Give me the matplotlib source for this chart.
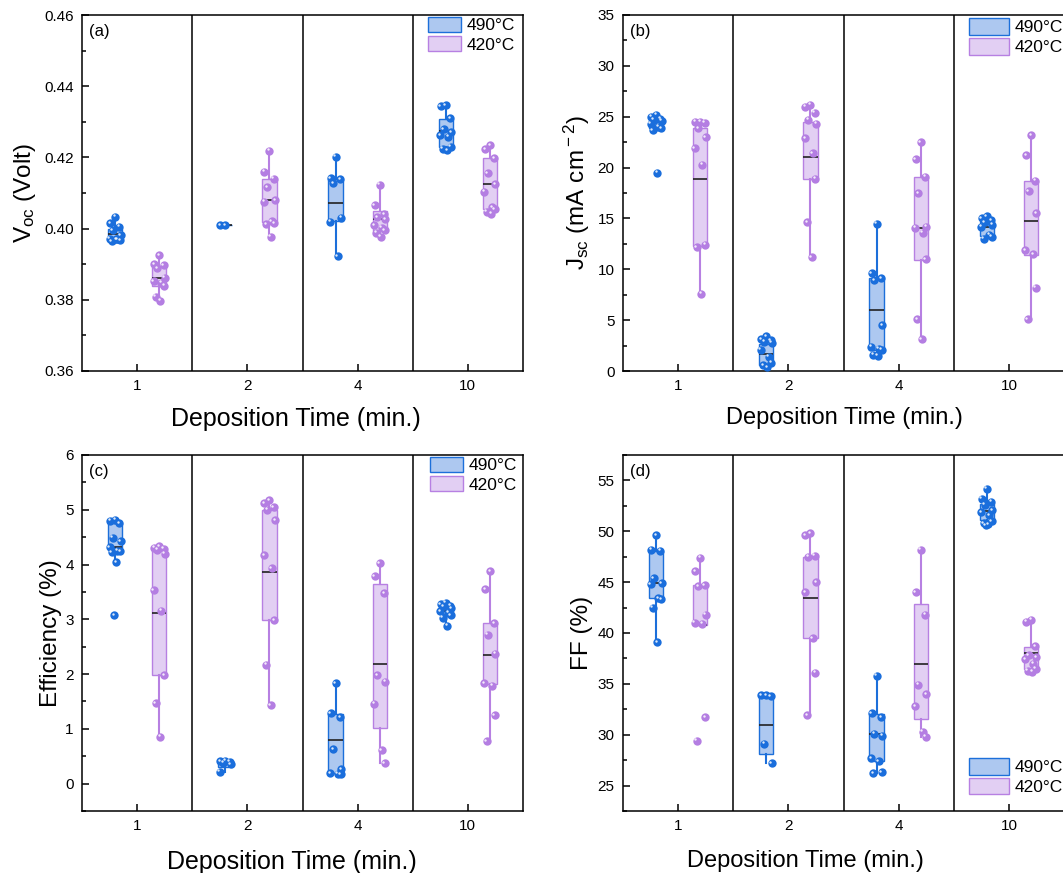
import numpy as np
import matplotlib
matplotlib.use('Agg')
import matplotlib.pyplot as plt
import matplotlib.transforms as mtransforms
from matplotlib.patches import Patch
from matplotlib.ticker import MultipleLocator, FormatStrFormatter

plt.rcParams['font.family'] = ['Liberation Sans', 'DejaVu Sans']
plt.rcParams['mathtext.fontset'] = 'custom'
plt.rcParams['mathtext.rm'] = 'Liberation Sans'
plt.rcParams['mathtext.it'] = 'Liberation Sans:italic'

times = ['1', '2', '4', '10']
temps = ['490°C', '420°C']

# individual cells per deposition time
voc_490 = [[0.4033, 0.4016, 0.4005, 0.3995, 0.3982, 0.3972, 0.3970, 0.3968, 0.3965, 0.3970],
           [0.4009, 0.4009],
           [0.4202, 0.4142, 0.4138, 0.4128, 0.4031, 0.4019, 0.3923],
           [0.4346, 0.4344, 0.4310, 0.4280, 0.4270, 0.4262, 0.4258, 0.4230, 0.4225, 0.4221]]
voc_420 = [[0.3926, 0.3900, 0.3898, 0.3888, 0.3862, 0.3853, 0.3848, 0.3840, 0.3809, 0.3797],
           [0.4219, 0.4160, 0.4140, 0.4116, 0.4080, 0.4076, 0.4021, 0.4016, 0.4013, 0.3977],
           [0.4123, 0.4065, 0.4040, 0.4032, 0.4026, 0.4010, 0.4002, 0.3995, 0.3988, 0.3977],
           [0.4235, 0.4223, 0.4197, 0.4155, 0.4125, 0.4104, 0.4060, 0.4055, 0.4048, 0.4042]]
jsc_490 = [[25.2, 25.0, 24.8, 24.7, 24.6, 24.3, 24.0, 23.9, 23.7, 19.5],
           [3.4, 3.1, 3.0, 2.9, 2.8, 2.1, 1.4, 0.8, 0.6, 0.4],
           [14.5, 9.6, 9.1, 8.9, 4.5, 2.4, 2.2, 2.1, 1.6, 1.5],
           [15.2, 15.0, 14.8, 14.6, 14.4, 14.2, 13.4, 13.2, 13.0]]
jsc_420 = [[24.5, 24.5, 24.4, 23.9, 23.0, 21.9, 20.3, 12.4, 12.2, 7.6],
           [26.2, 26.0, 25.4, 24.7, 24.3, 22.9, 21.4, 18.9, 14.6, 11.2],
           [22.5, 20.8, 19.1, 17.5, 14.2, 14.1, 13.6, 11.0, 5.1, 3.1],
           [23.2, 21.2, 18.7, 17.7, 15.5, 11.9, 11.5, 8.2, 5.1]]
eff_490 = [[4.82, 4.80, 4.76, 4.49, 4.43, 4.32, 4.25, 4.24, 4.23, 4.04, 3.08],
           [0.42, 0.41, 0.40, 0.38, 0.35, 0.22],
           [1.83, 1.29, 1.21, 0.63, 0.26, 0.19, 0.18, 0.17],
           [3.30, 3.28, 3.25, 3.24, 3.20, 3.15, 3.12, 3.08, 3.03, 2.88]]
eff_420 = [[4.34, 4.31, 4.29, 4.27, 4.20, 3.53, 3.16, 1.98, 1.47, 0.86],
           [5.17, 5.12, 5.05, 5.00, 4.81, 4.17, 3.93, 2.98, 2.17, 1.43],
           [4.03, 3.79, 3.48, 1.98, 1.86, 1.46, 0.61, 0.37],
           [3.88, 3.55, 2.93, 2.72, 2.37, 1.83, 1.79, 1.25, 0.78]]
ff_490 = [[49.6, 48.2, 48.1, 45.4, 44.9, 44.8, 43.4, 43.3, 42.5, 39.1],
          [33.9, 33.9, 33.8, 29.1, 27.2],
          [35.8, 32.1, 31.7, 30.1, 29.9, 27.7, 27.4, 26.3, 26.2],
          [54.2, 53.2, 52.9, 52.6, 52.1, 51.9, 51.6, 51.0, 50.8, 50.7, 50.6]]
ff_420 = [[47.4, 46.1, 44.7, 44.6, 41.8, 41.0, 40.9, 31.7, 29.4],
          [49.8, 49.6, 47.6, 47.5, 45.0, 44.0, 39.5, 36.1, 31.9],
          [48.2, 44.0, 41.8, 34.9, 34.0, 32.8, 30.3, 29.8],
          [41.3, 41.1, 38.7, 37.8, 37.6, 37.4, 37.0, 36.5, 36.3, 36.2]]

# box statistics: (whisker low, Q1, median, Q3, whisker high)
voc_490_box = [(0.3968, 0.3970, 0.3985, 0.4000, 0.4033), (0.4009, 0.4009, 0.4009, 0.4009, 0.4009),
               (0.3923, 0.4020, 0.4073, 0.4140, 0.4202), (0.4221, 0.4228, 0.4275, 0.4307, 0.4346)]
voc_420_box = [(0.3797, 0.3839, 0.3862, 0.3893, 0.3926), (0.3977, 0.4019, 0.4081, 0.4138, 0.4219),
               (0.3977, 0.3992, 0.4027, 0.4049, 0.4123), (0.4042, 0.4056, 0.4125, 0.4197, 0.4235)]
jsc_490_box = [(23.7, 23.9, 24.0, 24.7, 25.2), (0.4, 0.55, 1.7, 2.7, 3.4),
               (1.5, 2.1, 6.0, 9.1, 14.5), (13.0, 13.3, 14.15, 14.6, 15.2)]
jsc_420_box = [(7.6, 12.3, 18.9, 23.9, 24.5), (11.2, 18.9, 21.0, 24.5, 26.2),
               (3.1, 10.9, 14.1, 19.1, 22.5), (5.1, 11.4, 14.7, 18.7, 23.2)]
eff_490_box = [(4.04, 4.31, 4.32, 4.76, 4.82), (0.22, 0.31, 0.35, 0.40, 0.42),
               (0.17, 0.19, 0.80, 1.28, 1.83), (2.88, 3.10, 3.15, 3.24, 3.30)]
eff_420_box = [(0.86, 1.98, 3.12, 4.29, 4.34), (1.43, 2.98, 3.86, 5.00, 5.17),
               (0.37, 1.02, 2.19, 3.64, 4.03), (0.78, 1.81, 2.34, 2.93, 3.88)]
ff_490_box = [(39.1, 43.4, 44.9, 48.1, 49.6), (27.2, 28.1, 31.0, 34.0, 34.0),
              (26.2, 27.4, 30.1, 32.0, 35.8), (50.6, 51.1, 52.0, 52.7, 54.2)]
ff_420_box = [(40.8, 40.8, 40.8, 44.7, 47.4), (31.9, 39.5, 43.4, 47.5, 49.8),
              (29.8, 31.5, 37.0, 42.9, 48.2), (36.2, 36.5, 38.0, 38.6, 41.3)]

BLUE_EDGE, BLUE_FILL = '#1c6fda', '#adc8f0'
PURP_EDGE, PURP_FILL = '#b780e2', '#e2cff3'
BLUE_DOT, PURP_DOT = '#1a6edc', '#b47ee2'
OFFSET = 0.2
BOX_W = 0.13
JITTER = [0.0, -0.045, 0.04, -0.02, 0.05, -0.05, 0.02, 0.045, -0.03, 0.01, -0.01]

fig = plt.figure(figsize=(10.63, 8.73), dpi=100)
W, H = 1063, 873


def axes_at(x0, y_top, w=441, h=356):
    return fig.add_axes([x0 / W, 1 - (y_top + h) / H, w / W, h / H])


def draw_group(ax, pos, pts, box, edge, fill, dot):
    lo, q1, med, q3, hi = box
    stats = [dict(whislo=lo, q1=q1, med=med, q3=q3, whishi=hi, fliers=[])]
    ax.bxp(stats, positions=[pos], widths=BOX_W, patch_artist=True, showcaps=False,
           showfliers=False,
           boxprops=dict(facecolor=fill, edgecolor=edge, linewidth=1.0),
           whiskerprops=dict(color=edge, linewidth=1.5),
           medianprops=dict(color='#222222', linewidth=1.2),
           zorder=2)
    xs = pos + np.resize(JITTER, len(pts))
    ax.scatter(xs, pts, s=36, color=dot, linewidths=0, zorder=4)
    # small glossy highlight on each ball
    shine = mtransforms.offset_copy(ax.transData, fig=fig, x=-1.0, y=1.0, units='points')
    ax.scatter(xs, pts, s=3.0, color='white', alpha=0.85, linewidths=0, zorder=5,
               transform=shine)


panels = [
    dict(x0=82, y0=15, b490=voc_490, b420=voc_420, s490=voc_490_box, s420=voc_420_box,
         ylabel=r'V$_{\rm oc}$ (Volt)', ylim=(0.36, 0.46), major=0.02, minor=0.01,
         fmt='%.2f', tag='(a)', lab_x=-0.100, xl=(0.486, -0.100), xl_size=18,
         leg=dict(loc='upper right', bbox_to_anchor=(1 - 8 / 441, 1 - 2 / 356)), hl=1.95, hh=0.95),
    dict(x0=623, y0=15, b490=jsc_490, b420=jsc_420, s490=jsc_490_box, s420=jsc_420_box,
         ylabel=r'J$_{\rm sc}$ (mA cm$^{\rm -2}$)', ylim=(0, 35), major=5, minor=2.5,
         fmt='%d', tag='(b)', lab_x=-0.070, xl=(0.503, -0.100), xl_size=17,
         leg=dict(loc='upper right', bbox_to_anchor=(1 - 1 / 441, 1 - 3 / 356)), hl=2.3, hh=1.1),
    dict(x0=82, y0=455, b490=eff_490, b420=eff_420, s490=eff_490_box, s420=eff_420_box,
         ylabel='Efficiency (%)', ylim=(-0.5, 6), major=1, minor=0.5,
         fmt='%d', tag='(c)', lab_x=-0.045, xl=(0.476, -0.110), xl_size=18,
         leg=dict(loc='upper right', bbox_to_anchor=(1 - 6 / 441, 1 - 2 / 356)), hl=1.95, hh=0.95),
    dict(x0=623, y0=455, b490=ff_490, b420=ff_420, s490=ff_490_box, s420=ff_420_box,
         ylabel='FF (%)', ylim=(22.5, 57.5), major=5, minor=2.5,
         fmt='%d', tag='(d)', lab_x=-0.068, xl=(0.414, -0.110), xl_size=17,
         leg=dict(loc='lower right', bbox_to_anchor=(1 - 1 / 441, 16 / 356)), hl=2.3, hh=1.1),
]

for p in panels:
    ax = axes_at(p['x0'], p['y0'])
    for i in range(len(times)):
        draw_group(ax, i + 1 - OFFSET, p['b490'][i], p['s490'][i], BLUE_EDGE, BLUE_FILL, BLUE_DOT)
        draw_group(ax, i + 1 + OFFSET, p['b420'][i], p['s420'][i], PURP_EDGE, PURP_FILL, PURP_DOT)
    for sep in (1.5, 2.5, 3.5):
        ax.axvline(sep, color='black', lw=1.1, zorder=1)

    ax.set_xlim(0.5, 4.5)
    ax.set_ylim(*p['ylim'])
    ax.set_xticks(range(1, len(times) + 1))
    ax.set_xticklabels(times)
    ax.yaxis.set_major_locator(MultipleLocator(p['major']))
    ax.yaxis.set_minor_locator(MultipleLocator(p['minor']))
    ax.yaxis.set_major_formatter(FormatStrFormatter(p['fmt']))
    ax.tick_params(axis='both', which='major', direction='in', length=5, width=1.1,
                   labelsize=11, pad=6)
    ax.tick_params(axis='y', which='minor', direction='in', length=3, width=1.1)
    for sp in ax.spines.values():
        sp.set_linewidth(1.1)

    ax.set_ylabel(p['ylabel'], fontsize=17.5)
    ax.yaxis.set_label_coords(p['lab_x'], 0.5)
    ax.set_xlabel('Deposition Time (min.)', fontsize=p['xl_size'], va='top')
    ax.xaxis.set_label_coords(*p['xl'])
    ax.text(0.016, 0.975, p['tag'], transform=ax.transAxes, ha='left', va='top', fontsize=12)

    handles = [Patch(facecolor=BLUE_FILL, edgecolor=BLUE_EDGE, linewidth=1.0),
               Patch(facecolor=PURP_FILL, edgecolor=PURP_EDGE, linewidth=1.0)]
    ax.legend(handles, temps, frameon=False, fontsize=12.5, borderpad=0, borderaxespad=0,
              handlelength=p['hl'], handleheight=p['hh'], handletextpad=0.3,
              labelspacing=0.15, **p['leg'])

fig.savefig('out.png', dpi=100)
